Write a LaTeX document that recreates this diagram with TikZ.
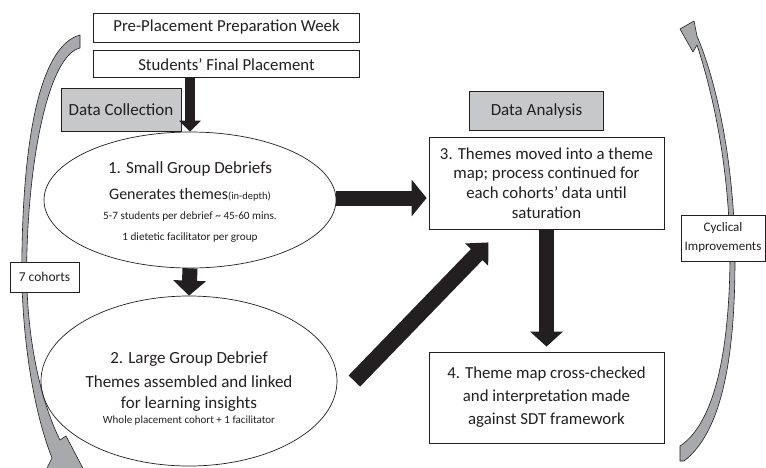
\documentclass[tikz,border=0pt]{standalone}
\usepackage{fontspec}
\setmainfont{Carlito}
\usepackage{tikz}
\usetikzlibrary{shapes.geometric, arrows.meta, positioning, calc}
\definecolor{inkdark}{HTML}{231F20}
\definecolor{phasegray}{HTML}{C7C8CA}
\definecolor{loopgray}{HTML}{A7A9AC}
\tikzset{
    stagebox/.style={rectangle, draw=inkdark, line width=0.8pt, fill=white, text=inkdark,
        align=center, inner sep=0pt, font=\fontsize{16.8}{19.7}\selectfont},
    phasebox/.style={rectangle, draw=inkdark, line width=0.8pt, fill=phasegray, text=inkdark,
        inner sep=0pt, font=\fontsize{17}{20}\selectfont},
    debrief/.style={ellipse, draw=inkdark, line width=0.7pt, inner sep=0pt},
    debrieftext/.style={text=inkdark, align=center, inner sep=0pt},
    sidebox/.style={rectangle, draw=inkdark, line width=0.7pt, fill=white, text=inkdark,
        align=center, inner sep=0pt},
    bigarrow/.style={-{Triangle[length=15pt, width=32pt]}, line width=15pt, inkdark},
    loopband/.style={fill=loopgray, draw=inkdark, line width=0.6pt, line join=round},
}

\begin{document}
\begin{tikzpicture}[x=1pt, y=-1pt]
    \useasboundingbox (0,0) rectangle (766,467);

    % cycle bands behind everything
    \draw[loopband] (80,35) -- (80,48) .. controls (50,55) and (30,150) .. (27,250)
        .. controls (24,330) and (40,400) .. (60,440) -- (66,436) -- (86,474) -- (44,474)
        -- (52,458) .. controls (33,410) and (20,330) .. (22,250)
        .. controls (24,130) and (42,45) .. (80,35) -- cycle;
    \draw[loopband] (680,29) -- (694,21) -- (697,36) .. controls (718,85) and (735,170) .. (735,260)
        .. controls (735,370) and (718,435) .. (684,461) -- (680,461) -- (680,446)
        .. controls (712,425) and (729,360) .. (730,260)
        .. controls (730,175) and (715,100) .. (697,45) -- (693,52) -- cycle;

    % collection side
    \node[stagebox, minimum width=266pt, minimum height=29pt] (pre) at (226.5,27.5) {Pre-Placement Preparation Week};
    \node[stagebox, minimum width=266pt, minimum height=27pt, below=8pt of pre] (final) {Students’ Final Placement};
    \node[phasebox, minimum width=120pt, minimum height=43pt] (collect) at (121,109.5) {Data Collection};

    \node[debrief, minimum width=292pt, minimum height=136pt] (small) at (190,200) {};
    \node[debrieftext, font=\fontsize{11.2}{20.5}\selectfont, yshift=-2pt] (smalltext) at (small.center) {%
        {\fontsize{17}{20}\selectfont 1. Small Group Debriefs}\\[5.5pt]
        {\fontsize{16}{20}\selectfont Generates themes}{\fontsize{10.5}{20}\selectfont(in-depth)}\\
        5-7 students per debrief \textasciitilde{} 45-60 mins.\\
        1 dietetic facilitator per group};
    \node[debrief, minimum width=296pt, minimum height=170pt] (large) at (189,381) {};
    \node[debrieftext, font=\fontsize{11}{21}\selectfont, yshift=-7pt] (largetext) at (large.center) {%
        {\fontsize{17}{20}\selectfont 2. Large Group Debrief}\\[3pt]
        {\fontsize{17}{20}\selectfont Themes assembled and linked}\\
        {\fontsize{17}{20}\selectfont for learning insights}\\[-6pt]
        Whole placement cohort + 1 facilitator};

    \node[sidebox, minimum width=69pt, minimum height=30pt, font=\fontsize{13.5}{16}\selectfont] (cohorts) at (44.5,277) {7 cohorts};

    % analysis side
    \node[stagebox, minimum width=235pt, minimum height=92pt] (map) at (546.5,183)
        {3. Themes moved into a theme\\map; process continued for\\each cohorts’ data until\\saturation};
    \node[phasebox, minimum width=134pt, minimum height=39pt, above=6pt of map, xshift=-10pt] (analysis) {Data Analysis};
    \node[stagebox, minimum width=235pt, minimum height=91pt, font=\fontsize{16.8}{23}\selectfont] (check) at (546.5,397.5)
        {4. Theme map cross-checked\\and interpretation made\\against SDT framework};

    \node[sidebox, minimum width=84pt, minimum height=46pt, font=\fontsize{13}{19}\selectfont] (cyclical) at (723,238) {Cyclical\\Improvements};

    % block arrows
    \draw[bigarrow, line width=10pt, -{Triangle[length=11pt, width=21pt]}] (final.south -| small.north) -- (small.north);
    \draw[bigarrow] (small.south) -- (large.north);
    \draw[bigarrow, -{Triangle[length=15pt, width=36pt]}] ($(small.east)+(0,-2)$) -- ($(small.east -| map.west)+(-2,-2)$);
    \draw[bigarrow, line width=16pt, -{Triangle[length=17pt, width=31pt]}] ($(large.east)+(17,0)$) -- ($(map.south)+(-58,13)$);
    \draw[bigarrow] (map.south) -- ($(check.north)+(0,-5)$);
\end{tikzpicture}
\end{document}
